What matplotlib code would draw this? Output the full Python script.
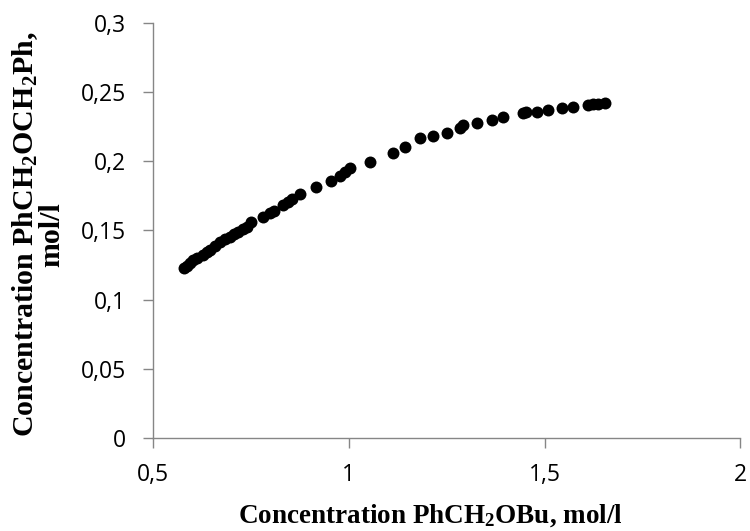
import matplotlib
matplotlib.use("Agg")
import matplotlib.pyplot as plt

plt.rcParams['mathtext.fontset'] = 'custom'
plt.rcParams['mathtext.rm'] = 'Liberation Serif:bold'
plt.rcParams['mathtext.it'] = 'Liberation Serif:bold'
plt.rcParams['mathtext.bf'] = 'Liberation Serif:bold'
plt.rcParams['mathtext.default'] = 'rm'

conc_benzyl_butyl_ether = [
    0.579, 0.587, 0.595, 0.602, 0.612, 0.628, 0.638, 0.646, 0.658, 0.671,
    0.684, 0.697, 0.707, 0.717, 0.730, 0.740, 0.750, 0.781, 0.799, 0.809,
    0.832, 0.845, 0.855, 0.876, 0.917, 0.955, 0.978, 0.991, 1.003, 1.055,
    1.113, 1.144, 1.182, 1.216, 1.251, 1.285, 1.292, 1.328, 1.366, 1.394,
    1.446, 1.453, 1.481, 1.509, 1.545, 1.573, 1.612, 1.624, 1.637, 1.655,
]
conc_dibenzyl_ether = [
    0.1229, 0.1244, 0.1265, 0.1287, 0.1302, 0.1323, 0.1345, 0.1359, 0.1388, 0.1417,
    0.1439, 0.1453, 0.1475, 0.1490, 0.1511, 0.1526, 0.1562, 0.1598, 0.1627, 0.1641,
    0.1685, 0.1706, 0.1728, 0.1764, 0.1815, 0.1858, 0.1894, 0.1923, 0.1952, 0.1996,
    0.2061, 0.2104, 0.2169, 0.2184, 0.2205, 0.2242, 0.2263, 0.2278, 0.2299, 0.2321,
    0.2350, 0.2357, 0.2357, 0.2372, 0.2386, 0.2393, 0.2408, 0.2415, 0.2415, 0.2422,
]

x_ticks = [0.5, 1.0, 1.5, 2.0]
x_tick_labels = ["0,5", "1", "1,5", "2"]
y_ticks = [0, 0.05, 0.10, 0.15, 0.20, 0.25, 0.30]
y_tick_labels = ["0", "0,05", "0,1", "0,15", "0,2", "0,25", "0,3"]

fig = plt.figure(figsize=(7.5, 5.31), dpi=100)
ax = fig.add_axes([0.204, 0.175, 0.783, 0.782])

ax.scatter(conc_benzyl_butyl_ether, conc_dibenzyl_ether, s=74, color='black',
           linewidths=0, zorder=3)

ax.set_xlim(0.5, 2.0)
ax.set_ylim(0, 0.3)
ax.set_xticks(x_ticks)
ax.set_xticklabels(x_tick_labels)
ax.set_yticks(y_ticks)
ax.set_yticklabels(y_tick_labels)

for side in ('top', 'right'):
    ax.spines[side].set_visible(False)
for side in ('left', 'bottom'):
    ax.spines[side].set_color('#868686')
    ax.spines[side].set_linewidth(1.0)

ax.tick_params(axis='both', direction='out', length=7, width=1.0,
               color='#868686', labelsize=16.5, labelcolor='black')
ax.tick_params(axis='x', pad=11)
ax.tick_params(axis='y', pad=12.5)
for lbl in ax.get_xticklabels() + ax.get_yticklabels():
    lbl.set_family(['Open Sans', 'DejaVu Sans'])

ax.set_xlabel(r"Concentration PhCH$_2$OBu, mol/l", family='Liberation Serif',
              fontweight='bold', fontsize=19.5)
ax.xaxis.set_label_coords(0.472, -0.155)
ax.set_ylabel("Concentration PhCH$_2$OCH$_2$Ph,\nmol/l", family='Liberation Serif',
              fontweight='bold', fontsize=21.5, linespacing=0.92)
ax.yaxis.set_label_coords(-0.15, 0.49)

fig.savefig("out.png", dpi=100)
